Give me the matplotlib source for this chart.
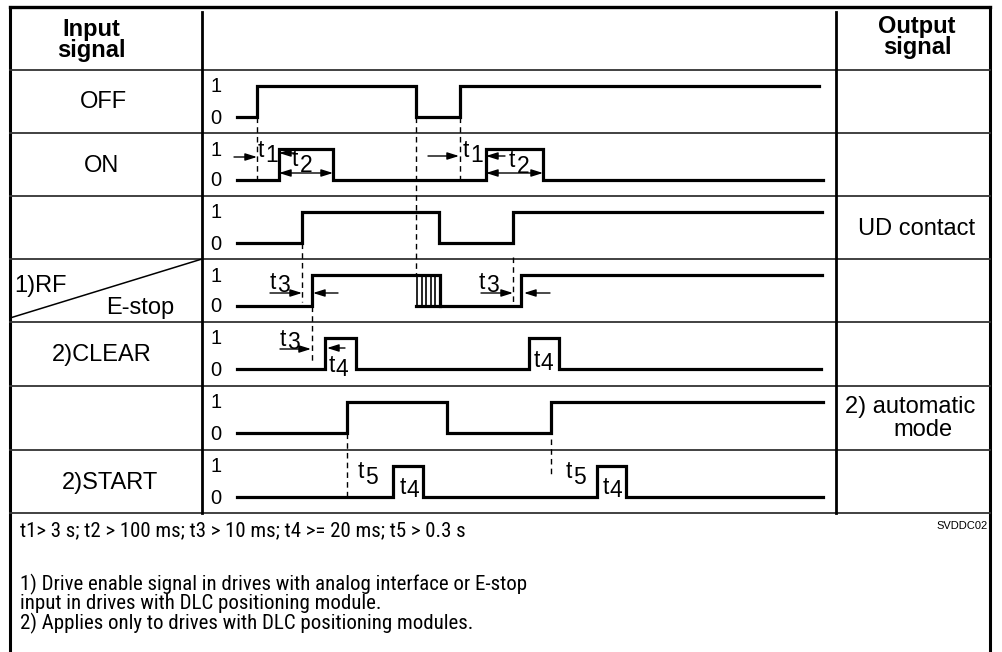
import matplotlib
matplotlib.use('Agg')
import matplotlib.pyplot as plt
import numpy as np
from matplotlib import font_manager
from matplotlib.font_manager import FontProperties

FONT = 'Liberation Sans'

# ---------------- data ----------------
row_names = ['OFF', 'ON', '', '1)RF', '2)CLEAR', '', '2)START']
out_names = ['', '', 'UD contact', '', '', '2) automatic\nmode', '']
# transition times and logic levels (steps-post)
t_off = [237, 257, 416, 460, 819];            v_off = [0, 1, 0, 1, 1]
t_on = [237, 279, 333, 486, 543, 823];        v_on = [0, 1, 0, 1, 0, 0]
t_ud = [237, 302, 439, 513, 822];             v_ud = [0, 1, 0, 1, 1]
t_rf = [237, 312, 440, 521, 822];             v_rf = [0, 1, 0, 1, 1]
t_clear = [237, 325, 356, 529, 559, 821];     v_clear = [0, 1, 0, 1, 0, 0]
t_auto = [237, 347, 447, 551, 823];           v_auto = [0, 1, 0, 1, 1]
t_start = [237, 393, 423, 597, 626, 823];     v_start = [0, 1, 0, 1, 0, 0]
rf_hatch = (416, 440)
notes = ['t1> 3 s; t2 > 100 ms; t3 > 10 ms; t4 >= 20 ms; t5 > 0.3 s',
         '1) Drive enable signal in drives with analog interface or E-stop',
         'input in drives with DLC positioning module.',
         '2) Applies only to drives with DLC positioning modules.']

# ---------------- narrow font for the notes ----------------
def find_narrow():
    fl = font_manager.fontManager.ttflist
    pref = ['Liberation Sans Narrow', 'Arial Narrow', 'Roboto Condensed',
            'Open Sans Condensed', 'Noto Sans Condensed', 'DejaVu Sans Condensed']
    def ok(f):
        return f.style == 'normal' and f.weight in (400, 'normal', 'regular', 'book')
    for p in pref:
        for f in fl:
            if f.name == p and ok(f):
                return FontProperties(fname=f.fname)
    for f in fl:
        fn = f.fname.lower()
        if ok(f) and ('condensed' in fn or 'narrow' in fn) and 'mono' not in fn \
                and 'serif' not in fn.replace('sans', ''):
            return FontProperties(fname=f.fname)
    return FontProperties(family=FONT)

NARROW = find_narrow()

# ---------------- layout ----------------
W, H = 1002, 652
fig = plt.figure(figsize=(W / 100, H / 100), dpi=100)
ax = fig.add_axes([0, 0, 1, 1])
ax.set_xlim(0, W)
ax.set_ylim(H, 0)
ax.axis('off')

L, R, TOP = 10, 990, 7
C1, C2 = 202, 836
rows = [70, 133, 196, 259, 322, 386, 450, 513]
HI, LO = 16, 47
FS = 17

def hi(i):
    return rows[i] + HI

def lo(i):
    return rows[i] + LO

def lvl(i, v):
    return [lo(i) - (LO - HI) * x for x in v]

# table
ax.plot([L, R], [TOP, TOP], color='black', lw=2.4, solid_capstyle='projecting')
ax.plot([L, L], [TOP, H], color='black', lw=2.2)
ax.plot([R, R], [TOP, H], color='black', lw=2.2)
for y in rows:
    ax.plot([L, R], [y, y], color='#333333', lw=1.3)
for x in (C1, C2):
    ax.plot([x, x], [TOP + 5, rows[-1]], color='black', lw=2.0)
ax.plot([L, C1], [rows[4] - 4, rows[3]], color='black', lw=1.1)

tk = dict(family=FONT, color='black')
bold = dict(ha='center', va='baseline', fontsize=FS, fontweight='bold', **tk)
ax.text(91, 36, 'Input', **bold)
ax.text(91, 57, 'signal', **bold)
ax.text(917, 33, 'Output', **bold)
ax.text(917, 54, 'signal', **bold)
label_x = [103, 102, 102, None, 102, 102, 110]
for i, nm in enumerate(row_names):
    if nm and nm != '1)RF':
        ax.text(label_x[i], (rows[i] + rows[i + 1]) / 2 + 1, nm, ha='center',
                va='center', fontsize=FS, **tk)
ax.text(14, 286, '1)RF', ha='left', va='center', fontsize=FS, **tk)
ax.text(174, 308, 'E-stop', ha='right', va='center', fontsize=FS, **tk)
ax.text(917, 229, out_names[2], ha='center', va='center', fontsize=FS, **tk)
auto1, auto2 = out_names[5].split('\n')
ax.text(910, 407, auto1, ha='center', va='center', fontsize=FS, **tk)
ax.text(923, 430, auto2, ha='center', va='center', fontsize=FS, **tk)

# level labels
for i in range(7):
    ax.text(216, hi(i) + 1, '1', ha='center', va='center', fontsize=14.5, **tk)
    ax.text(216, lo(i) + 1, '0', ha='center', va='center', fontsize=14.5, **tk)

# signals
SIG = dict(color='black', lw=2.3, where='post', solid_joinstyle='miter')
for i, (t, v) in enumerate([(t_off, v_off), (t_on, v_on), (t_ud, v_ud),
                            (t_rf, v_rf), (t_clear, v_clear),
                            (t_auto, v_auto), (t_start, v_start)]):
    ax.step(t, lvl(i, v), **SIG)
# hatched (bouncing) region on RF
ax.plot([rf_hatch[0], rf_hatch[1]], [lo(3), lo(3)], color='black', lw=2.3)
for x in np.linspace(rf_hatch[0] + 1, rf_hatch[1], 6):
    ax.plot([x, x], [hi(3), lo(3)], color='black', lw=1.2)

# dashed guide lines
DASH = dict(color='black', lw=1.0, linestyle=(0, (4, 3)))
guides = [(t_off[1], lo(0), lo(1) + 5), (t_off[2], lo(0), hi(3)),
          (t_off[3], lo(0), lo(1)), (t_ud[1], lo(2), lo(3) - 4),
          (t_ud[3], rows[3] - 2, lo(3)), (t_rf[1], lo(3), lo(4) - 6),
          (t_auto[1], lo(5), lo(6)), (t_auto[3], lo(5) + 6, lo(6) - 22)]
for x, y0, y1 in guides:
    ax.plot([x, x], [y0, y1], **DASH)

# arrows
def arrow(x0, x1, y, both=False):
    st = '<|-|>' if both else '-|>'
    ax.annotate('', xy=(x1, y), xytext=(x0, y),
                arrowprops=dict(arrowstyle=st + ',head_length=0.7,head_width=0.22',
                                color='black', lw=1.0, shrinkA=0, shrinkB=0))

def tlab(x, y, d, dy=5, dx=7):
    ax.text(x, y, 't', ha='left', va='baseline', fontsize=16.5, **tk)
    ax.text(x + dx, y + dy, d, ha='left', va='baseline', fontsize=16.5, **tk)

# ON row
arrow(234, t_off[1], 157)
tlab(258, 157, '1')
arrow(294, t_on[1], 153)
tlab(292, 166, '2', dy=6, dx=8)
arrow(t_on[1], t_on[2], 173, both=True)
arrow(428, t_off[3] - 1, 156)
tlab(463, 157, '1')
arrow(505, t_on[3], 156)
tlab(509, 167, '2', dy=6, dx=8)
arrow(t_on[3], t_on[4], 173, both=True)
# RF row
tlab(270, 289, '3', dy=3)
arrow(270, t_ud[1], 293)
arrow(338, t_rf[1] + 1, 293)
tlab(479, 289, '3', dy=3)
arrow(481, t_ud[3], 293)
arrow(550, t_rf[3] + 3, 293)
# CLEAR row
tlab(280, 346, '3', dy=3)
arrow(280, t_rf[1] - 1, 349)
arrow(345, t_clear[1] + 2, 348)
tlab(329, 372, '4', dy=4)
tlab(534, 367, '4', dy=3)
# START row
tlab(358, 478, '5', dy=6)
tlab(400, 494, '4', dy=3)
tlab(566, 478, '5', dy=6)
tlab(603, 494, '4', dy=3)

# notes
ax.text(988, 526, 'SVDDC02', ha='right', va='center', fontsize=8, **tk)
nfs = 15
ax.text(20, 531, notes[0], ha='left', va='center', fontproperties=NARROW,
        fontsize=nfs, color='black')
ax.text(20, 574, '\n'.join(notes[1:]), ha='left', va='top',
        fontproperties=NARROW, fontsize=nfs, color='black', linespacing=0.96)

fig.savefig('out.png', dpi=100)
